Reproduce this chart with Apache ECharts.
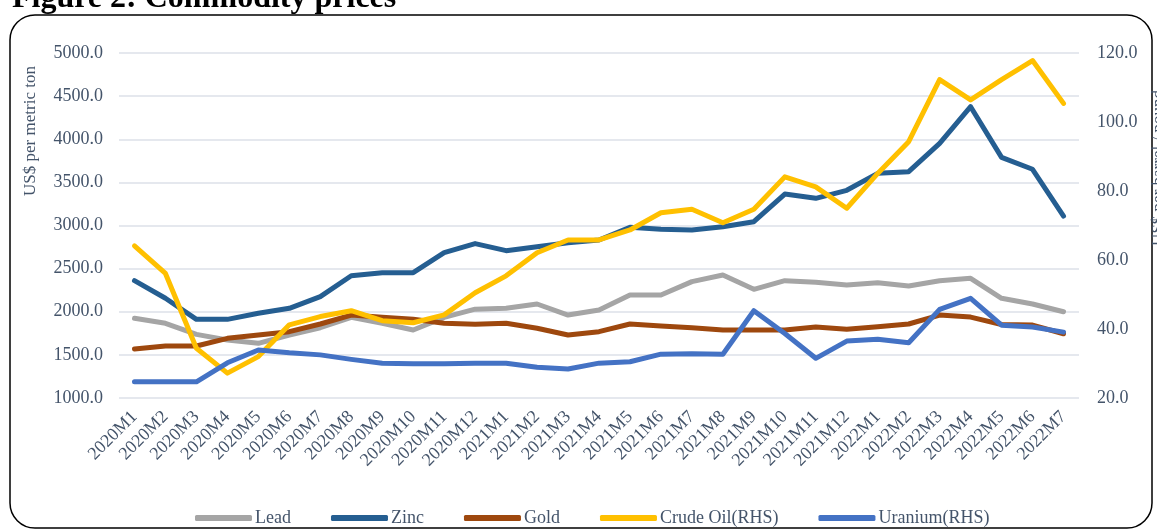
<!DOCTYPE html>
<html>
<head>
<meta charset="utf-8">
<script src="https://cdn.jsdelivr.net/npm/echarts@6/dist/echarts.min.js"></script>
<style>
  html, body { margin: 0; padding: 0; background: #fff; }
  #chart { width: 1157px; height: 530px; }
</style>
</head>
<body>
<div id="chart"></div>
<script>
var months = ["2020M1", "2020M2", "2020M3", "2020M4", "2020M5", "2020M6", "2020M7", "2020M8", "2020M9", "2020M10", "2020M11", "2020M12",
  "2021M1", "2021M2", "2021M3", "2021M4", "2021M5", "2021M6", "2021M7", "2021M8", "2021M9", "2021M10", "2021M11", "2021M12",
  "2022M1", "2022M2", "2022M3", "2022M4", "2022M5", "2022M6", "2022M7"];

// US$ per metric ton (left axis)
var lead = [1924, 1866, 1738, 1672, 1634, 1730, 1815, 1935, 1866, 1788, 1935, 2030,
  2040, 2090, 1962, 2020, 2194, 2194, 2349, 2426, 2260, 2360, 2341, 2310,
  2337, 2298, 2360, 2388, 2156, 2090, 2000];
var zinc = [2360, 2156, 1912, 1912, 1982, 2040, 2175, 2418, 2453, 2453, 2685, 2790,
  2708, 2754, 2800, 2832, 2979, 2956, 2948, 2986, 3044, 3365, 3315, 3408,
  3605, 3624, 3953, 4377, 3790, 3652, 3110];
var gold = [1568, 1603, 1603, 1692, 1730, 1769, 1858, 1962, 1935, 1912, 1866, 1856,
  1866, 1808, 1730, 1769, 1858, 1835, 1815, 1788, 1788, 1788, 1824, 1796,
  1827, 1858, 1962, 1938, 1852, 1846, 1745];

// US$ per barrel / pound (right axis)
var crudeOil = [64.1, 56.1, 34.4, 27.2, 32.0, 41.2, 43.6, 45.3, 42.4, 41.8, 44.1, 50.5,
  55.4, 62.1, 65.8, 65.8, 68.7, 73.7, 74.7, 70.8, 74.7, 84.1, 81.2, 75.0,
  85.1, 94.3, 112.3, 106.4, 112.3, 117.8, 105.4];
var uranium = [24.7, 24.7, 24.7, 30.2, 33.9, 33.1, 32.5, 31.2, 30.1, 29.9, 29.9, 30.1,
  30.1, 28.9, 28.4, 30.1, 30.5, 32.7, 32.8, 32.7, 45.3, 38.7, 31.5, 36.5,
  37.0, 36.0, 45.7, 48.9, 41.1, 40.6, 39.1];

var serif = "'Liberation Serif', 'Times New Roman', serif";
var txt = "#44546A";

function line(name, data, color, axis) {
  return {
    name: name,
    type: "line",
    yAxisIndex: axis,
    data: data,
    symbol: "none",
    color: color,
    lineStyle: { width: 5, color: color, cap: "round", join: "round" }
  };
}

var chart = echarts.init(document.getElementById("chart"));
chart.setOption({
  animation: false,
  textStyle: { fontFamily: serif },
  grid: { left: 119, right: 78, top: 53, bottom: 132 },
  graphic: [
    {
      type: "rect",
      shape: { x: 10, y: 15, width: 1142, height: 513, r: 25 },
      style: { fill: "none", stroke: "#000", lineWidth: 1.5 },
      z: -1
    },
    {
      type: "text",
      left: 12, top: -17,
      style: { text: "Figure 2: Commodity prices", font: "bold 32px " + serif, fill: "#000" }
    },
    {
      type: "text",
      x: 31, y: 131, rotation: Math.PI / 2,
      style: { text: "US$ per metric ton", font: "17px " + serif, fill: txt, align: "center", verticalAlign: "middle" }
    },
    {
      type: "text",
      x: 1159, y: 168, rotation: Math.PI / 2,
      style: { text: "US$ per barrel / pound", font: "17px " + serif, fill: txt, align: "center", verticalAlign: "middle" }
    }
  ],
  legend: {
    left: 190, top: 504,
    icon: "roundRect",
    itemWidth: 57, itemHeight: 6, itemGap: 40,
    textStyle: { fontSize: 18, color: txt, fontFamily: serif, padding: [0, 0, 0, -2] },
    data: ["Lead", "Zinc", "Gold", "Crude Oil(RHS)", "Uranium(RHS)"]
  },
  xAxis: {
    type: "category",
    data: months,
    boundaryGap: true,
    axisLine: { show: false },
    axisTick: { show: false },
    axisLabel: { interval: 0, rotate: 45, fontSize: 18, color: txt, margin: 16 }
  },
  yAxis: [
    {
      type: "value",
      min: 1000, max: 5000, interval: 500,
      axisLine: { show: false },
      axisTick: { show: false },
      axisLabel: { fontSize: 18, color: txt, margin: 16, formatter: function (v) { return v.toFixed(1); } },
      splitLine: { lineStyle: { color: "#DCE1E8", width: 1.5 } }
    },
    {
      type: "value",
      min: 20, max: 120, interval: 20,
      axisLine: { show: false },
      axisTick: { show: false },
      axisLabel: { fontSize: 18, color: txt, margin: 18, formatter: function (v) { return v.toFixed(1); } },
      splitLine: { show: false }
    }
  ],
  series: [
    line("Lead", lead, "#A5A5A5", 0),
    line("Zinc", zinc, "#255E91", 0),
    line("Gold", gold, "#9E480E", 0),
    line("Crude Oil(RHS)", crudeOil, "#FFC000", 1),
    line("Uranium(RHS)", uranium, "#4472C4", 1)
  ]
});
</script>
</body>
</html>
